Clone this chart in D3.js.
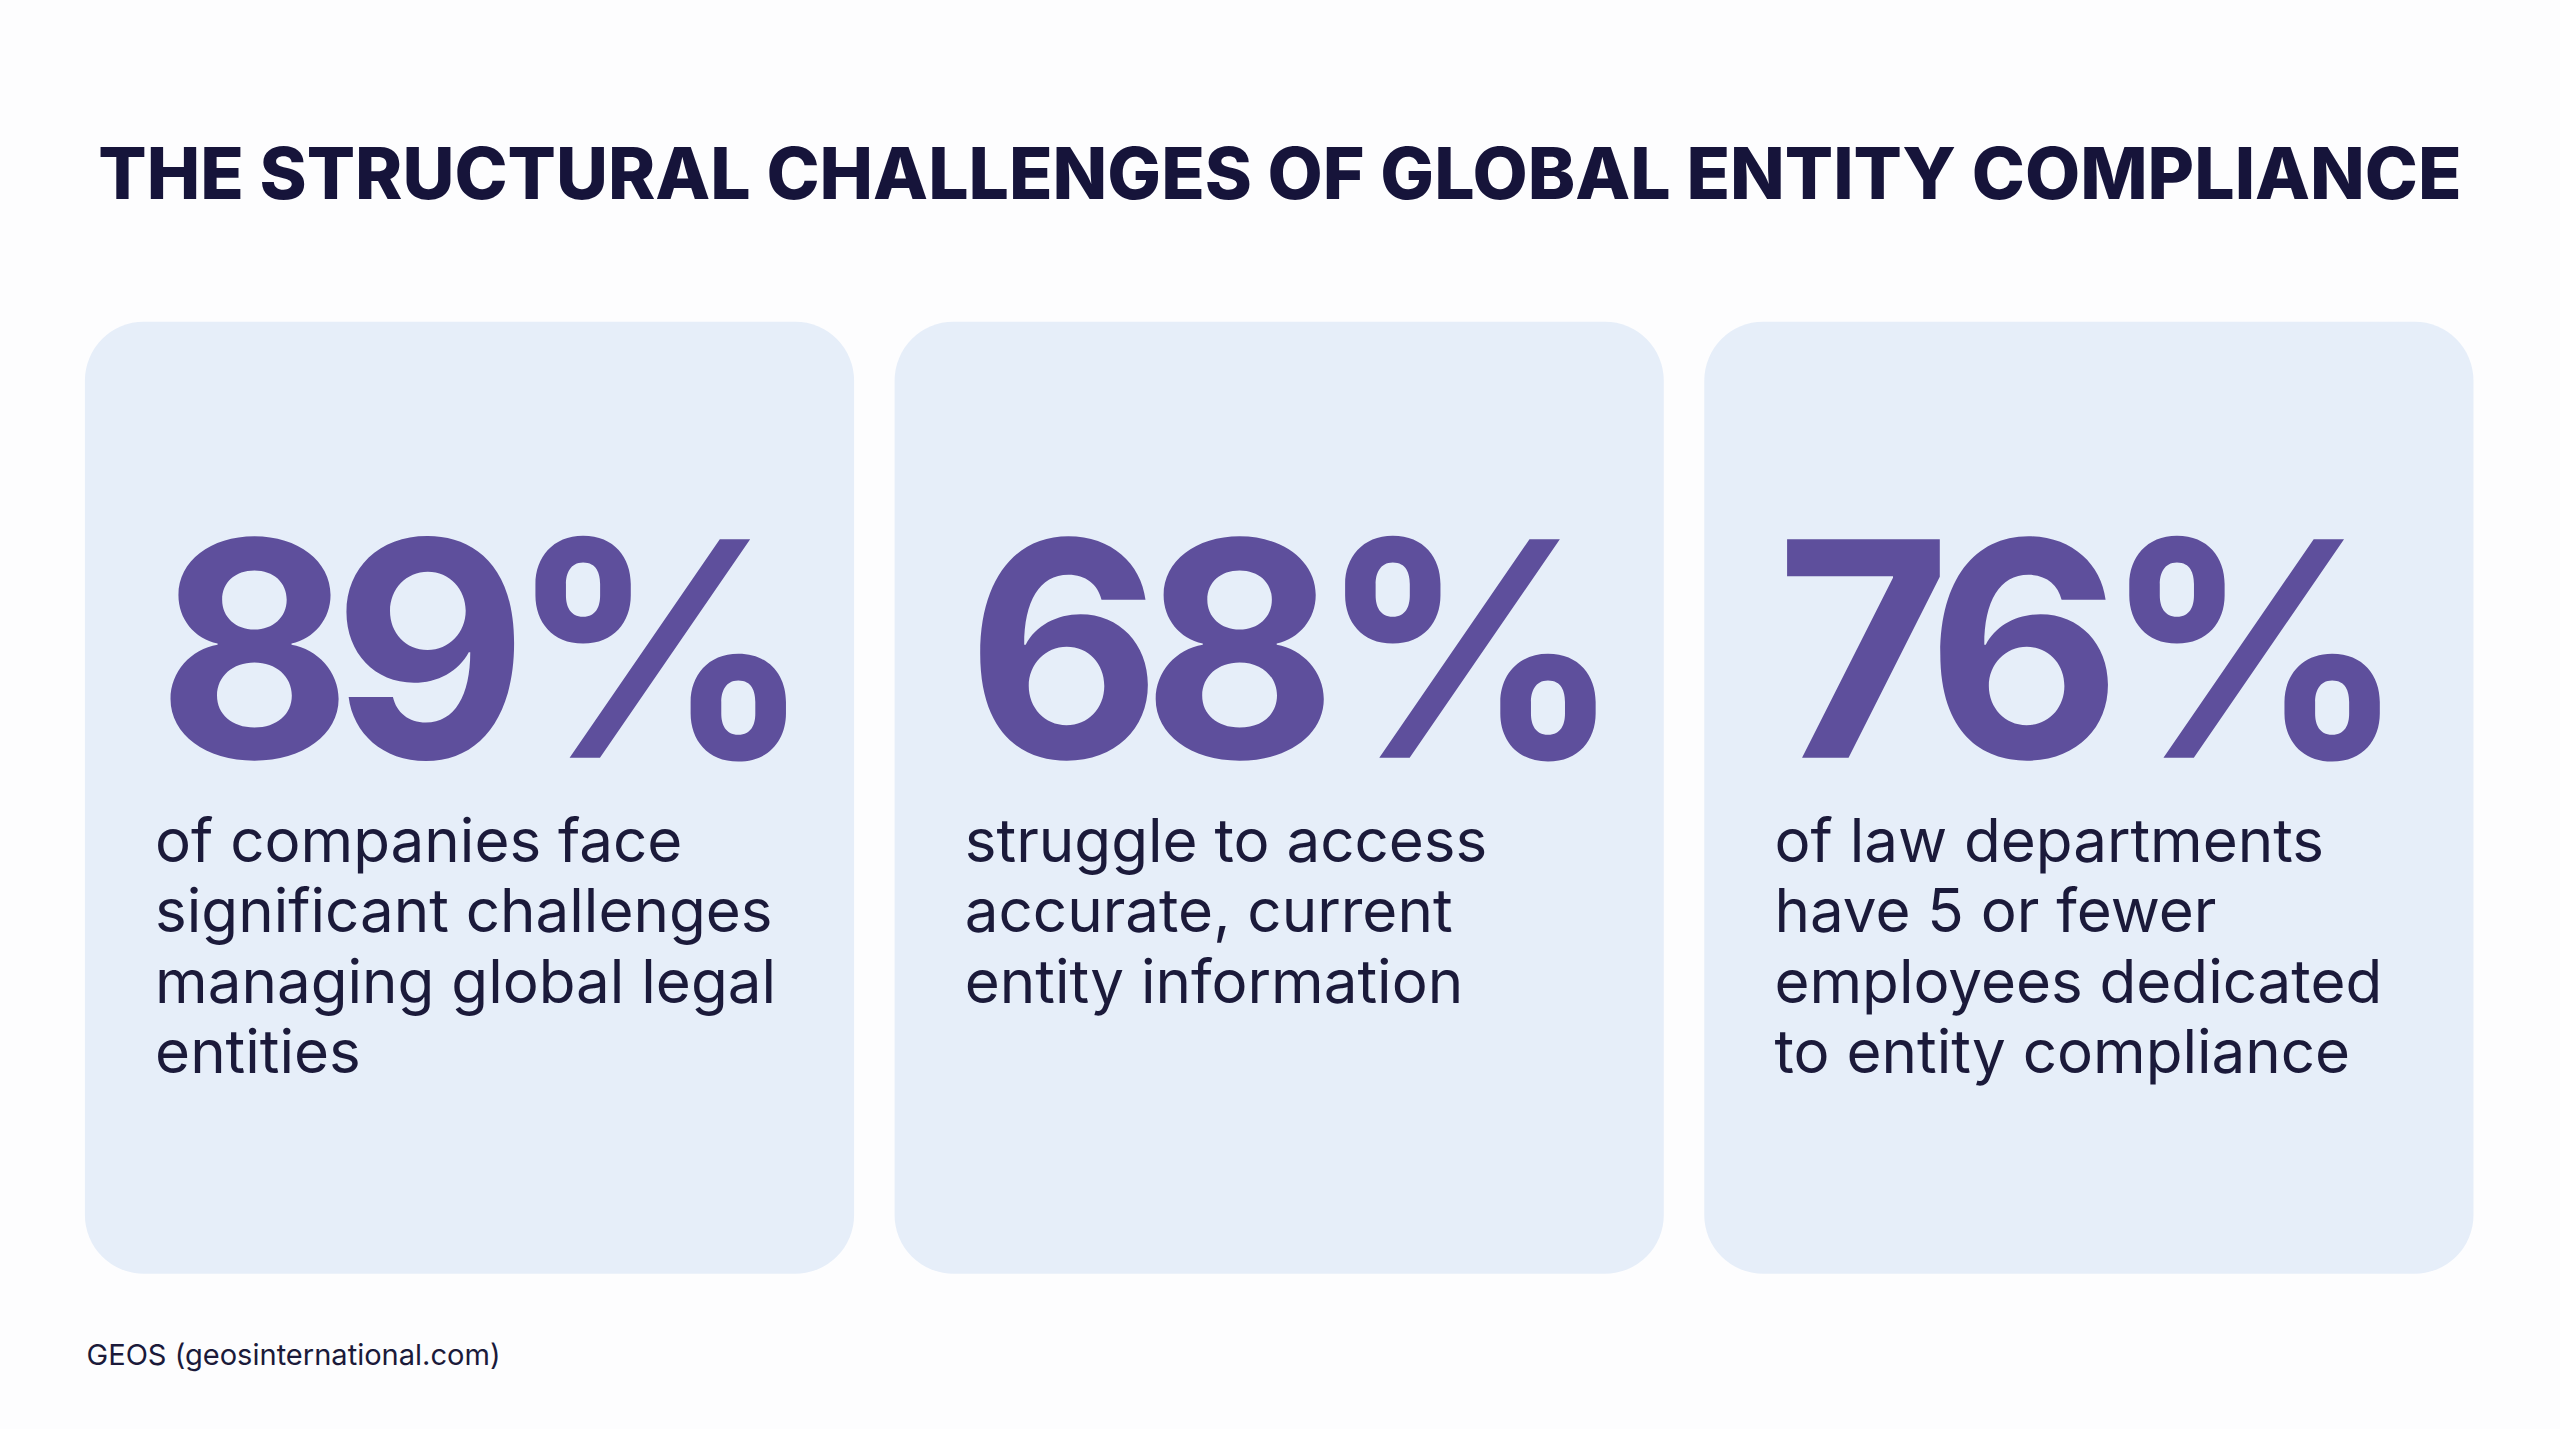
<!DOCTYPE html>
<html lang="en">
<head>
<meta charset="utf-8">
<title>Structural challenges</title>
<script src="https://cdn.jsdelivr.net/npm/d3@7"></script>
<style>
  body { margin: 0; background: #fdfdfe; }
  svg { display: block; }
</style>
</head>
<body>
<div id="chart"></div>
<script>
    var titleText = "THE STRUCTURAL CHALLENGES OF GLOBAL ENTITY COMPLIANCE";
    var statValues = ["89%", "68%", "76%"];
    var statLabels = [
        ["of companies face", "significant challenges", "managing global legal", "entities"],
        ["struggle to access", "accurate, current", "entity information"],
        ["of law departments", "have 5 or fewer", "employees dedicated", "to entity compliance"]
    ];
    var sourceText = "GEOS (geosinternational.com)";

    var W = 1568, H = 875;
    var svg = d3.select('#chart').append('svg')
        .attr('width', 2560).attr('height', 1429)
        .attr('viewBox', '0 0 ' + W + ' ' + H);

    svg.append('rect').attr('width', W).attr('height', H).attr('fill', '#fdfdfe');

    svg.append('text')
        .attr('x', 784).attr('y', 122)
        .attr('text-anchor', 'middle')
        .attr('font-family', 'Inter, sans-serif')
        .attr('font-weight', 800)
        .attr('font-size', 43.8)
        .attr('fill', '#16143a')
        .text(titleText);

    // card positions from a band scale
    var x = d3.scaleBand().domain(d3.range(statValues.length))
        .range([52, 1515]).paddingInner(0.05).paddingOuter(0);

    var cards = svg.selectAll('g.card').data(statValues).enter()
        .append('g').attr('class', 'card')
        .attr('transform', function (d, i) { return 'translate(' + x(i) + ',0)'; });

    cards.append('rect')
        .attr('y', 197).attr('width', x.bandwidth()).attr('height', 583)
        .attr('rx', 36)
        .attr('fill', '#e6eef9');

    cards.append('text')
        .attr('x', 44).attr('y', 464)
        .attr('font-family', 'Inter, sans-serif')
        .attr('font-weight', 700)
        .attr('font-size', 184)
        .attr('letter-spacing', -12)
        .attr('fill', '#5e4f9c')
        .text(function (d) { return d; });

    cards.append('text')
        .attr('font-family', 'Inter, sans-serif')
        .attr('font-size', 36.8)
        .attr('fill', '#1b1a3a')
        .selectAll('tspan')
        .data(function (d, i) { return statLabels[i]; })
        .enter().append('tspan')
        .attr('x', 43)
        .attr('y', function (d, j) { return 528 + j * 43; })
        .text(function (d) { return d; });

    svg.append('text')
        .attr('x', 53).attr('y', 836)
        .attr('font-family', 'Inter, sans-serif')
        .attr('font-size', 17.8)
        .attr('fill', '#1b1a3a')
        .text(sourceText);
</script>
</body>
</html>
